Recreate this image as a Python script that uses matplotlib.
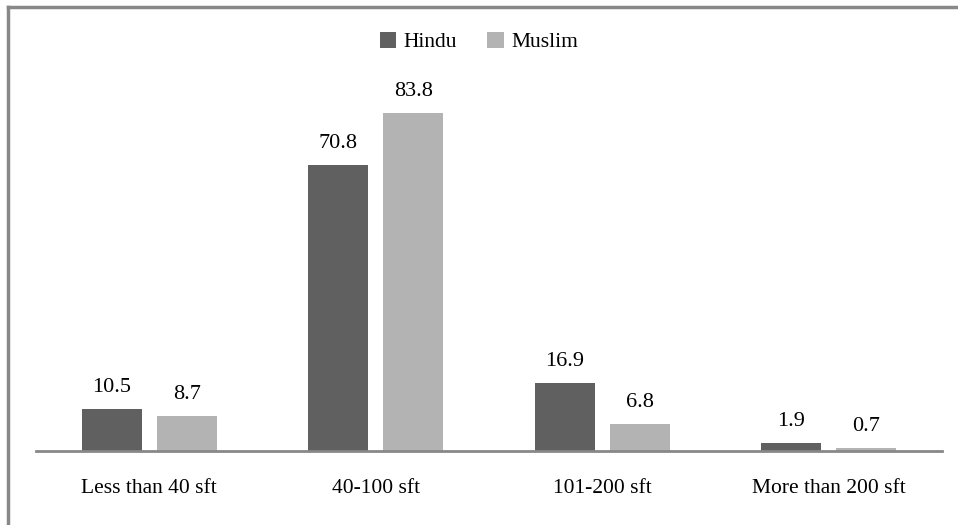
import numpy as np
import matplotlib
matplotlib.use('agg')
import matplotlib.pyplot as plt
from matplotlib.lines import Line2D

categories = ['Less than 40 sft', '40-100 sft', '101-200 sft', 'More than 200 sft']
hindu = [10.5, 70.8, 16.9, 1.9]
muslim = [8.7, 83.8, 6.8, 0.7]

plt.rcParams['font.family'] = 'Liberation Serif'

fig = plt.figure(figsize=(9.58, 5.25), dpi=100)
ax = fig.add_axes([0.0376, 0.141, 0.9457, 0.6914])

x = np.arange(len(categories))
w = 0.265
gap = 0.066
off = (w + gap) / 2
b1 = ax.bar(x - off, hindu, w, color='#606060', label='Hindu')
b2 = ax.bar(x + off, muslim, w, color='#b3b3b3', label='Muslim')

for bars, vals in ((b1, hindu), (b2, muslim)):
    for r, v in zip(bars, vals):
        ax.text(r.get_x() + r.get_width() / 2, v + 4.2, str(v),
                ha='center', va='baseline', fontsize=16)

ax.set_xlim(-0.5, len(categories) - 0.5)
ax.set_ylim(0, 90)
ax.set_xticks(x)
ax.set_xticklabels(categories, fontsize=15.5)
ax.tick_params(axis='x', length=0, pad=20)
ax.set_yticks([])
for s in ('top', 'right', 'left'):
    ax.spines[s].set_visible(False)
ax.spines['bottom'].set_color('#888888')
ax.spines['bottom'].set_linewidth(2)

fig.legend(loc='center', bbox_to_anchor=(0.5, 0.92), ncol=2, frameon=False,
           fontsize=15.5, handlelength=0.75, handleheight=0.75, handletextpad=0.35,
           columnspacing=1.4)

# outer frame (top and left edges only)
fig.add_artist(Line2D([0.008, 1.0], [0.9875, 0.9875], color='#888888', lw=2.5,
                      transform=fig.transFigure))
fig.add_artist(Line2D([0.0085, 0.0085], [0.0, 0.9875], color='#888888', lw=2.5,
                      transform=fig.transFigure))

fig.savefig('out.png', dpi=100)
